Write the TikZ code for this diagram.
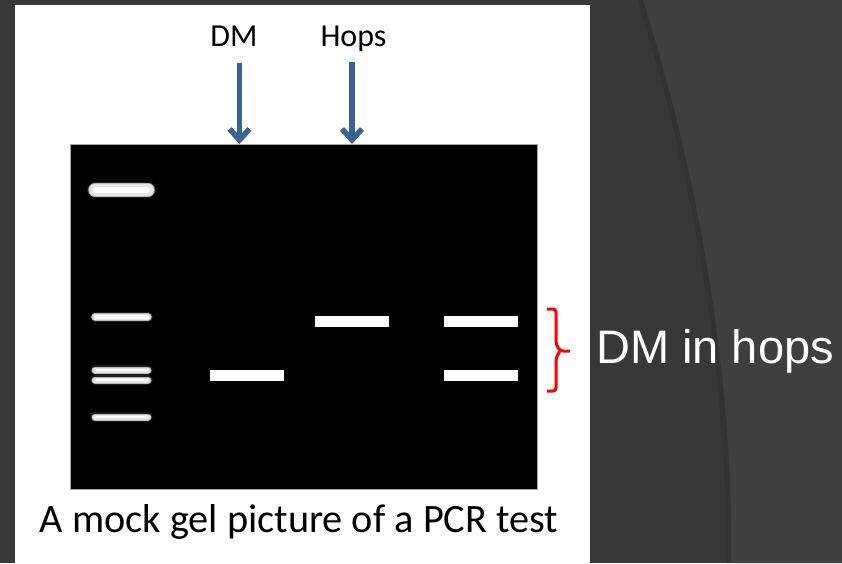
\documentclass[tikz,border=0pt]{standalone}
\usepackage{fontspec}
\setmainfont{Carlito}
\newfontfamily\arialfont{Liberation Sans}
\usetikzlibrary{arrows.meta}
\definecolor{bgdark}{HTML}{383838}
\definecolor{bglight}{HTML}{3F3F3F}
\definecolor{bgshade}{HTML}{303030}
\definecolor{arrowblue}{HTML}{3B6496}
\definecolor{bracketred}{HTML}{FF0000}
\tikzset{
  gelbox/.style={draw=gray!70, line width=0.6pt, fill=black, inner sep=0pt, anchor=north west,
    minimum width=467pt, minimum height=345pt},
  bandbox/.style={fill=white, inner sep=0pt, minimum width=74pt, minimum height=11pt},
  lanelabel/.style={anchor=base, text=black, font=\fontsize{32}{38}\selectfont, inner sep=0pt},
  captionlabel/.style={anchor=base, text=black, font=\fontsize{40.3}{46}\selectfont, inner sep=0pt},
  sidelabel/.style={anchor=base west, text=white, font=\arialfont\fontsize{47}{54}\selectfont, inner sep=0pt},
  bluearrow/.style={draw=arrowblue, line width=5.5pt, -{Straight Barb[length=11pt,width=20pt]}},
  glowA/.style={line cap=round, draw=gray!22!black},
  glowB/.style={line cap=round, draw=gray!55},
  glowC/.style={line cap=round, draw=gray!20!white},
  glowD/.style={line cap=round, draw=white},
  bracketline/.style={draw=bracketred, line width=3pt, rounded corners=3pt}
}
\begin{document}
\begin{tikzpicture}[x=1pt,y=-1pt]
\useasboundingbox (0,0) rectangle (842,563);
% background
\fill[bgdark] (0,0) rectangle (842,563);
\fill[bglight] (643,0) .. controls (700,180) and (734,380) .. (731,563) -- (842,563) -- (842,0) -- cycle;
\draw[bgshade, line width=5pt, opacity=0.6] (640,0) .. controls (697,180) and (731,380) .. (728,563);
% white panel
\fill[white] (15,5) rectangle (590,563);
% gel
\node[gelbox] (gel) at (70,144) {};
% ladder bands
\foreach \yy/\ww in {190/13, 317/7, 370/6.5, 380/6.5, 417/6.5}{
  \draw[glowA, line width=\ww pt+3pt] (95,\yy) -- (148,\yy);
  \draw[glowB, line width=\ww pt+0.5pt] (95,\yy) -- (148,\yy);
  \draw[glowC, line width=\ww pt-1.5pt] (95,\yy) -- (148,\yy);
  \draw[glowD, line width=\ww pt*0.45] (96,\yy) -- (147,\yy);
}
% sample bands
\node[bandbox] (dmband) at (247,375.5) {};
\node[bandbox] (hopsband) at (351.5,321.5) {};
\node[bandbox] (mixhigh) at (481,321) {};
\node[bandbox] (mixlow) at (481,375.5) {};
% lane labels
\node[lanelabel] (dmlab) at (234,46.5) {DM};
\node[lanelabel] (hopslab) at (353.5,46.5) {Hops};
% arrows
\coordinate (dmstart) at (239.5,63);
\coordinate (hopsstart) at (352,62);
\draw[bluearrow] (dmstart) -- (dmstart |- gel.north);
\draw[bluearrow] (hopsstart) -- (hopsstart |- gel.north);
% caption
\node[captionlabel] (caption) at (299,532) {A mock gel picture of a PCR test};
% bracket
\coordinate (brtop) at (547,309);
\coordinate (brtip) at (570,351);
\coordinate (brbot) at (547,391);
\draw[bracketline] (brtop) -- (556,309) -- (556,344) -- (560,351) -- (brtip);
\draw[bracketline] (560,351) -- (556,358) -- (556,391) -- (brbot);
% side label
\node[sidelabel] (dminhops) at (596,363) {DM in hops};
\end{tikzpicture}
\end{document}
